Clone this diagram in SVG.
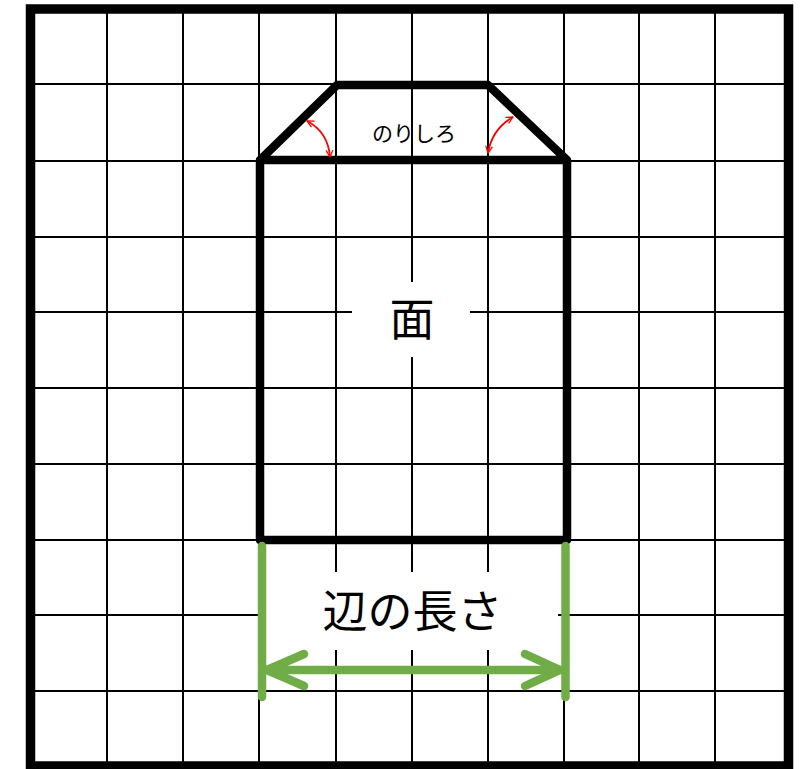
<svg xmlns="http://www.w3.org/2000/svg" width="805" height="769" viewBox="0 0 805 769">
  <style>
    .grid { stroke: #000; stroke-width: 2; fill: none; }
    .border { stroke: #000; stroke-width: 9.5; fill: none; }
    .outline { stroke: #000; stroke-width: 8.5; fill: none; stroke-linejoin: round; stroke-linecap: round; }
    .mask { fill: #fff; stroke: none; }
    .txt { font-family: "Noto Sans CJK JP", "Noto Sans", sans-serif; fill: #000; text-anchor: middle; }
    .green { stroke: #70AD47; stroke-width: 8.5; fill: none; stroke-linecap: round; stroke-linejoin: round; }
    .red { stroke: #FF0000; stroke-width: 1.8; fill: none; }
  </style>
  <defs>
    <marker id="redHead" viewBox="0 0 10 10" refX="9" refY="5" markerWidth="8" markerHeight="8" markerUnits="userSpaceOnUse" orient="auto-start-reverse">
      <path d="M1,1 L9,5 L1,9" fill="none" stroke="#FF0000" stroke-width="1.6" stroke-linecap="round" stroke-linejoin="round"/>
    </marker>
  </defs>
  <rect width="805" height="769" fill="#fff"/>

  <g id="grid">
    <g class="grid">
      <line x1="107" y1="9" x2="107" y2="766"/>
      <line x1="183" y1="9" x2="183" y2="766"/>
      <line x1="259" y1="9" x2="259" y2="766"/>
      <line x1="336" y1="9" x2="336" y2="766"/>
      <line x1="412" y1="9" x2="412" y2="766"/>
      <line x1="488" y1="9" x2="488" y2="766"/>
      <line x1="564" y1="9" x2="564" y2="766"/>
      <line x1="639" y1="9" x2="639" y2="766"/>
      <line x1="715" y1="9" x2="715" y2="766"/>
      <line x1="30" y1="84" x2="789" y2="84"/>
      <line x1="30" y1="161" x2="789" y2="161"/>
      <line x1="30" y1="237" x2="789" y2="237"/>
      <line x1="30" y1="312" x2="789" y2="312"/>
      <line x1="30" y1="388" x2="789" y2="388"/>
      <line x1="30" y1="464" x2="789" y2="464"/>
      <line x1="30" y1="540" x2="789" y2="540"/>
      <line x1="30" y1="615" x2="789" y2="615"/>
      <line x1="30" y1="691" x2="789" y2="691"/>
    </g>
    <rect class="border" x="30.5" y="9" width="758" height="757"/>
  </g>

  <g id="face">
    <path class="outline" d="M260,540 L260,160 L337,85 L488,85 L567,160 L567,540 Z M260,160 L567,160"/>
    <rect class="mask" x="352" y="282" width="118" height="75"/>
    <text class="txt" x="412" y="336" font-size="45">面</text>
  </g>

  <g id="glue-tab">
    <text class="txt" x="414" y="141" font-size="21">のりしろ</text>
  </g>

  <g id="edge-length">
    <rect class="mask" x="266" y="572" width="292" height="78"/>
    <text class="txt" x="412.5" y="628" font-size="45">辺の長さ</text>
  </g>

  <g id="connectors">
    <path class="red" d="M307,121 Q328,132 330,157" marker-start="url(#redHead)" marker-end="url(#redHead)"/>
    <path class="red" d="M513,117 Q492,129 488,153" marker-start="url(#redHead)" marker-end="url(#redHead)"/>
    <line class="green" x1="262" y1="546" x2="262" y2="697"/>
    <line class="green" x1="565.5" y1="546" x2="565.5" y2="697"/>
    <line class="green" x1="266" y1="670" x2="561" y2="670"/>
    <path class="green" d="M304,654 L267,670 L304,686"/>
    <path class="green" d="M525,654 L560,670 L525,686"/>
  </g>
</svg>
